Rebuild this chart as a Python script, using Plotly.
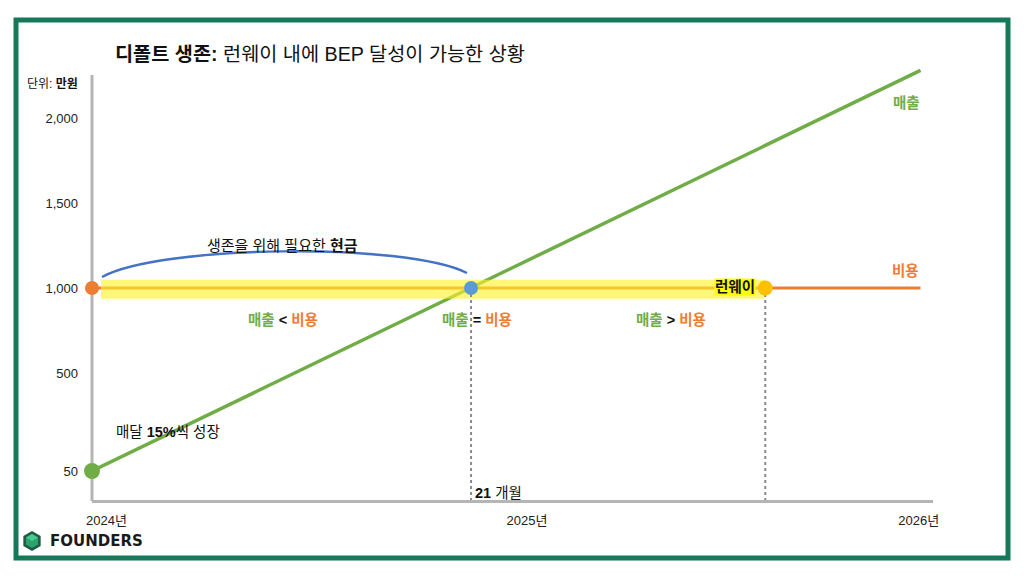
import math
import plotly.graph_objects as go

# ---------------- data ----------------
months_rev = [0, 21, 45.9]          # months since start
revenue = [50, 1000, 2280]          # 만원
months_cost = [0, 45.9]
cost = [1000, 1000]                 # 만원 (flat monthly cost)
bep_month = 21
runway_month = 37.3
y_tick_values = [50, 500, 1000, 1500, 2000]
y_tick_labels = ["50", "500", "1,000", "1,500", "2,000"]
x_tick_months = [0.8, 24.1, 45.8]
x_tick_labels = ["2024년", "2025년", "2026년"]

# ---------------- layout geometry ----------------
W, H = 1024, 576
L, R, T, B = 92, 91, 40, 76
PW, PH = W - L - R, H - T - B
PX_PER_MONTH = 18.05
PX_PER_UNIT = 0.17
Y0_PX = 458  # pixel row of value 0 on the linear part


def ypos(v):
    """Stylised axis: linear above 500, compressed below."""
    if v >= 500:
        return v
    lo = (Y0_PX - 471) / PX_PER_UNIT
    return lo + (v - 50) * (500 - lo) / 450


def mx(px):
    return (px - L) / PX_PER_MONTH


def vy(py):
    return (Y0_PX - py) / PX_PER_UNIT


def xp(px):
    return (px - L) / PW


def yp(py):
    return (H - B - py) / PH


FONT = "Liberation Sans, Noto Sans CJK KR, sans-serif"
GREEN = "#70ad47"
ORANGE = "#ed7d31"
BLUE = "#4472c4"
GRAY = "#b5b5b5"

fig = go.Figure()

# revenue line
fig.add_trace(go.Scatter(x=months_rev, y=[ypos(v) for v in revenue], mode="lines",
                         line=dict(color=GREEN, width=3.5), hoverinfo="skip"))
# cost line
fig.add_trace(go.Scatter(x=months_cost, y=cost, mode="lines",
                         line=dict(color=ORANGE, width=3), hoverinfo="skip"))
# yellow highlighter band (runway period)
fig.add_trace(go.Scatter(x=[mx(101), runway_month], y=[cost[0] - 8, cost[0] - 8], mode="lines",
                         line=dict(color="rgba(255,242,40,0.62)", width=19), hoverinfo="skip"))
# dotted vertical guides
for m in [bep_month, runway_month]:
    fig.add_trace(go.Scatter(x=[m, m], y=[cost[0], vy(500)], mode="lines",
                             line=dict(color="#8a8a8a", width=2, dash="dot"), hoverinfo="skip"))
# points
fig.add_trace(go.Scatter(x=[months_rev[0]], y=[ypos(revenue[0])], mode="markers",
                         marker=dict(color=GREEN, size=16), cliponaxis=False, hoverinfo="skip"))
fig.add_trace(go.Scatter(x=[months_cost[0]], y=[cost[0]], mode="markers",
                         marker=dict(color=ORANGE, size=14), cliponaxis=False, hoverinfo="skip"))
fig.add_trace(go.Scatter(x=[bep_month], y=[cost[0]], mode="markers",
                         marker=dict(color="#5b9bd5", size=14), cliponaxis=False, hoverinfo="skip"))
fig.add_trace(go.Scatter(x=[runway_month], y=[cost[0]], mode="markers",
                         marker=dict(color="#ffc000", size=15), cliponaxis=False, hoverinfo="skip"))

shapes = []
# y axis line (paper refs so it is not clipped at the plot edge)
shapes.append(dict(type="line", xref="paper", yref="paper", x0=xp(92), x1=xp(92), y0=yp(501), y1=yp(75),
                   line=dict(color=GRAY, width=3), layer="below"))
# blue brace (arc)
p0 = (102, 277); c1 = (160, 245); c2 = (405, 242); p1 = (467, 273)
path = "M {},{} C {},{} {},{} {},{}".format(mx(p0[0]), vy(p0[1]), mx(c1[0]), vy(c1[1]),
                                           mx(c2[0]), vy(c2[1]), mx(p1[0]), vy(p1[1]))
shapes.append(dict(type="path", xref="x", yref="y", path=path, line=dict(color=BLUE, width=2.5)))
# green frame
shapes.append(dict(type="rect", xref="paper", yref="paper", x0=xp(16), x1=xp(1008),
                   y0=yp(558), y1=yp(20), line=dict(color="#15795a", width=5)))


# logo hexagon
def hexpath(cx, cy, r, angles):
    pts = [(cx + r * math.cos(math.radians(a)), cy - r * math.sin(math.radians(a))) for a in angles]
    return "M " + " L ".join("{},{}".format(xp(x), yp(y)) for x, y in pts) + " Z"


hex_angles = [90, 30, -30, -90, -150, 150]
shapes.append(dict(type="path", xref="paper", yref="paper", path=hexpath(32, 541, 10, hex_angles),
                   fillcolor="#1d5c45", line=dict(width=0)))
shapes.append(dict(type="path", xref="paper", yref="paper", path=hexpath(32, 541, 7, hex_angles),
                   fillcolor="#2aa36c", line=dict(width=0)))
cx, cy, r = 32, 541, 7
top_face = [(cx, cy)] + [(cx + r * math.cos(math.radians(a)), cy - r * math.sin(math.radians(a))) for a in [150, 90, 30]]
shapes.append(dict(type="path", xref="paper", yref="paper",
                   path="M " + " L ".join("{},{}".format(xp(x), yp(y)) for x, y in top_face) + " Z",
                   fillcolor="#4cc98d", line=dict(width=0)))

ann = []


def A(text, x, y, size=14, xanchor="center", xref="x", yref="y", color="#111", **kw):
    ann.append(dict(text=text, x=x, y=y, xref=xref, yref=yref, xanchor=xanchor, yanchor="middle",
                    showarrow=False, font=dict(family=FONT, size=size, color=color), **kw))


A("<b>디폴트 생존:</b> 런웨이 내에 BEP 달성이 가능한 상황", xp(113), yp(54), size=19.7,
  xanchor="left", xref="paper", yref="paper")
A("단위: <b>만원</b>", xp(80), yp(84), size=12, xanchor="right", xref="paper", yref="paper")
A("생존을 위해 필요한 <b>현금</b>", mx(282), vy(245), size=15)
g = lambda s: "<span style='color:%s'><b>%s</b></span>" % (GREEN, s)
o = lambda s: "<span style='color:%s'><b>%s</b></span>" % (ORANGE, s)
A(g("매출") + " <b>&lt;</b> " + o("비용"), mx(283), vy(320), size=14.5)
A(g("매출") + " <b>=</b> " + o("비용"), mx(477), vy(320), size=14.5)
A(g("매출") + " <b>&gt;</b> " + o("비용"), mx(671), vy(320), size=14.5)
A("<b>런웨이</b>", mx(735), vy(287), size=14.5, bgcolor="#ffff00", borderpad=0)
A(g("매출"), mx(906), vy(103), size=14.5)
A(o("비용"), mx(905), vy(271), size=14.5)
A("매달 <b>15%</b>씩 성장", mx(114), vy(432), size=14.5, xanchor="left")
A("<b>21</b> 개월", mx(473), vy(493), size=14.5, xanchor="left")
A("<b>FOUNDERS</b>", xp(48), yp(541), size=15, xanchor="left", xref="paper", yref="paper",
  color="#1a1a1a")
ann[-1]["font"]["family"] = "DejaVu Sans, sans-serif"

fig.update_layout(
    width=W, height=H, margin=dict(l=L, r=R, t=T, b=B),
    paper_bgcolor="white", plot_bgcolor="white", showlegend=False,
    font=dict(family=FONT, size=13, color="#222"),
    xaxis=dict(range=[0, PW / PX_PER_MONTH], showgrid=False, zeroline=False,
               showline=True, linecolor=GRAY, linewidth=3,
               tickvals=x_tick_months, ticktext=x_tick_labels, ticks="",
               ticklabelstandoff=6, tickfont=dict(size=13, color="#222")),
    yaxis=dict(range=[vy(H - B), vy(T)], showgrid=False, zeroline=False, showline=False,
               tickvals=[ypos(v) for v in y_tick_values], ticktext=y_tick_labels, ticks="",
               ticklabelstandoff=13, tickfont=dict(size=13, color="#222")),
    shapes=shapes, annotations=ann,
)

fig.write_html("out.html")
